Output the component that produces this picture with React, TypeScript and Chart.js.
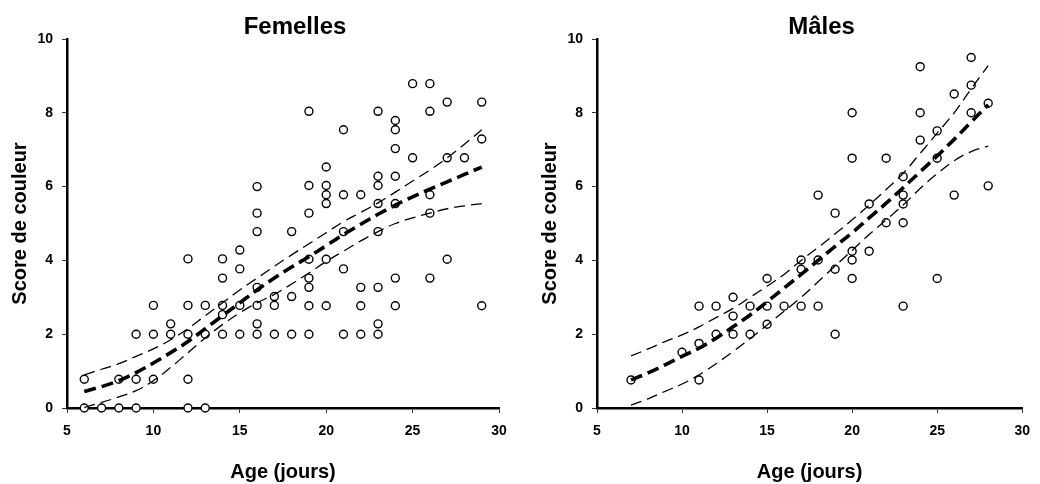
import React, { useEffect, useRef } from 'react';
import { Chart, registerables } from 'chart.js';

Chart.register(...registerables);

// ---- Femelles (females) ----
const femAges = [
  6, 6, 7, 8, 8, 9, 9, 9, 10, 10, 10, 11, 11,
  12, 12, 12, 12, 12, 13, 13, 13,
  14, 14, 14, 14, 14, 15, 15, 15, 15,
  16, 16, 16, 16, 16, 16, 16, 17, 17, 17, 18, 18, 18,
  19, 19, 19, 19, 19, 19, 19, 19,
  20, 20, 20, 20, 20, 20,
  21, 21, 21, 21, 21,
  22, 22, 22, 22,
  23, 23, 23, 23, 23, 23, 23, 23,
  24, 24, 24, 24, 24, 24, 24,
  25, 25, 26, 26, 26, 26, 26, 27, 27, 27, 28, 29, 29, 29,
];
const femScores = [
  0, 0.78, 0, 0, 0.78, 0, 0.78, 2.0, 0.78, 2.0, 2.78, 2.0, 2.28,
  0, 0.78, 2.0, 2.78, 4.04, 0, 2.0, 2.78,
  2.0, 2.53, 2.78, 3.52, 4.04, 2.0, 2.78, 3.77, 4.28,
  2.0, 2.28, 2.78, 3.27, 4.78, 5.28, 6.0, 2.0, 2.78, 3.02, 2.0, 3.02, 4.78,
  2.0, 2.77, 3.27, 3.52, 4.03, 5.28, 6.03, 8.04,
  2.77, 4.03, 5.54, 5.78, 6.03, 6.53,
  2.0, 3.77, 4.78, 5.78, 7.54,
  2.0, 2.77, 3.27, 5.78,
  2.0, 2.28, 3.27, 4.78, 5.54, 6.03, 6.28, 8.04,
  2.77, 3.52, 5.54, 6.28, 7.03, 7.54, 7.79,
  6.78, 8.79, 3.52, 5.28, 5.78, 8.04, 8.79, 4.03, 6.78, 8.29, 6.78, 2.77, 7.29, 8.29,
];
const femFitAges = [6, 7, 8, 9, 10, 11, 12, 13, 14, 15, 16, 17, 18, 19, 20, 21, 22, 23, 24, 25, 26, 27, 28, 29];
const femFitMean = [0.45, 0.58, 0.74, 0.96, 1.22, 1.5, 1.8, 2.15, 2.5, 2.85, 3.2, 3.52, 3.82, 4.1, 4.4, 4.7, 4.98, 5.25, 5.5, 5.72, 5.93, 6.13, 6.33, 6.53];
const femFitUpper = [0.9, 1.05, 1.2, 1.4, 1.6, 1.85, 2.15, 2.5, 2.85, 3.2, 3.52, 3.84, 4.15, 4.45, 4.75, 5.05, 5.3, 5.56, 5.85, 6.15, 6.45, 6.78, 7.15, 7.54];
const femFitLower = [0.02, 0.15, 0.3, 0.47, 0.74, 1.1, 1.5, 1.9, 2.26, 2.58, 2.85, 3.08, 3.36, 3.66, 3.97, 4.25, 4.53, 4.78, 5.0, 5.15, 5.28, 5.4, 5.48, 5.54];

// ---- Mâles (males) ----
const maleAges = [
  7, 10, 11, 11, 11, 12, 12, 13, 13, 13, 14, 14, 15, 15, 15, 16,
  17, 17, 17, 18, 18, 18, 19, 19, 19,
  20, 20, 20, 20, 20, 21, 21, 22, 22,
  23, 23, 23, 23, 23, 24, 24, 24, 25, 25, 25, 26, 26, 27, 27, 27, 28, 28,
];
const maleScores = [
  0.76, 1.51, 0.76, 1.75, 2.76, 2.0, 2.76, 2.0, 2.49, 3.0, 2.0, 2.76, 2.27, 2.76, 3.51, 2.76,
  2.76, 3.76, 4.01, 2.76, 4.01, 5.77, 2.0, 3.76, 5.28,
  3.51, 4.01, 4.25, 6.77, 8.0, 4.25, 5.53, 5.02, 6.77,
  2.76, 5.02, 5.53, 5.77, 6.27, 7.26, 8.0, 9.25, 3.51, 6.77, 7.51, 5.77, 8.51, 8.0, 8.75, 9.5, 6.02, 8.26,
];
const maleFitAges = [7, 8, 9, 10, 11, 12, 13, 14, 15, 16, 17, 18, 19, 20, 21, 22, 23, 24, 25, 26, 27, 28];
const maleFitMean = [0.76, 0.95, 1.17, 1.4, 1.62, 1.89, 2.2, 2.52, 2.88, 3.25, 3.62, 4.0, 4.38, 4.75, 5.15, 5.55, 5.97, 6.4, 6.83, 7.28, 7.75, 8.22];
const maleFitUpper = [1.41, 1.6, 1.8, 1.98, 2.2, 2.45, 2.7, 3.0, 3.3, 3.62, 4.0, 4.35, 4.72, 5.1, 5.5, 5.92, 6.36, 6.9, 7.45, 8.0, 8.65, 9.28];
const maleFitLower = [0.08, 0.25, 0.45, 0.65, 0.9, 1.2, 1.53, 1.88, 2.25, 2.62, 3.0, 3.42, 3.85, 4.27, 4.7, 5.1, 5.5, 5.95, 6.35, 6.7, 6.95, 7.1];

const xTicks = [5, 10, 15, 20, 25, 30];
const yTicks = [0, 2, 4, 6, 8, 10];

const FONT = '"Liberation Sans", Arial, Helvetica, sans-serif';

type PanelProps = {
  title: string;
  ages: number[];
  scores: number[];
  fitAges: number[];
  mean: number[];
  upper: number[];
  lower: number[];
  width: number;
  padRight: number;
};

function Panel(props: PanelProps) {
  const ref = useRef<HTMLCanvasElement | null>(null);
  useEffect(() => {
    const { title, ages, scores, fitAges, mean, upper, lower, padRight } = props;
    const pts = ages.map((a, i) => ({ x: a, y: scores[i] }));
    const line = (vals: number[]) => fitAges.map((a, i) => ({ x: a, y: vals[i] }));
    const titlePlugin = {
      id: 'panelTitle',
      afterDraw(chart: any) {
        const { ctx, chartArea } = chart;
        ctx.save();
        ctx.font = `bold 24px ${FONT}`;
        ctx.fillStyle = '#000';
        ctx.textAlign = 'center';
        ctx.textBaseline = 'alphabetic';
        ctx.fillText(title, (chartArea.left + chartArea.right) / 2 + 12, 33.5);
        ctx.restore();
      },
    };
    const thin = {
      type: 'scatter' as const,
      showLine: true,
      borderColor: '#000',
      borderWidth: 1.3,
      borderDash: [11, 6],
      pointRadius: 0,
      tension: 0.4,
      fill: false,
      order: 0,
      clip: false as any,
    };
    const chart = new Chart(ref.current as HTMLCanvasElement, {
      type: 'scatter',
      data: {
        datasets: [
          {
            label: 'obs',
            data: pts,
            pointRadius: 4,
            pointBorderWidth: 1.4,
            pointBackgroundColor: '#fff',
            pointBorderColor: '#000',
            backgroundColor: '#fff',
            borderColor: '#000',
            order: 1,
            clip: false as any,
          } as any,
          { ...thin, label: 'upper', data: line(upper) } as any,
          { ...thin, label: 'lower', data: line(lower) } as any,
          {
            ...thin,
            label: 'mean',
            data: line(mean),
            borderWidth: 3.6,
            borderDash: [12, 6],
          } as any,
        ],
      },
      options: {
        responsive: false,
        animation: false,
        events: [],
        layout: { padding: { top: 39, right: padRight, left: 0, bottom: 0 } },
        plugins: {
          legend: { display: false },
          tooltip: { enabled: false },
          title: { display: false },
        },
        scales: {
          x: {
            type: 'linear',
            min: 5,
            max: 30,
            afterBuildTicks: (s: any) => {
              s.ticks = xTicks.map((v) => ({ value: v }));
            },
            afterFit: (s: any) => {
              s.height = 76;
            },
            ticks: {
              color: '#000',
              font: { family: FONT, size: 14, weight: 'bold' },
              padding: 10,
            },
            grid: {
              display: true,
              drawOnChartArea: false,
              drawTicks: true,
              tickLength: 5,
              color: '#333',
              lineWidth: 1,
            },
            border: { display: true, color: '#000', width: 2.5 },
            title: {
              display: true,
              text: 'Age (jours)',
              color: '#000',
              font: { family: FONT, size: 20, weight: 'bold' },
              padding: { top: 0, bottom: 0 },
            },
          },
          y: {
            type: 'linear',
            min: 0,
            max: 10,
            afterBuildTicks: (s: any) => {
              s.ticks = yTicks.map((v) => ({ value: v }));
            },
            afterFit: (s: any) => {
              s.width = 67;
            },
            ticks: {
              color: '#000',
              font: { family: FONT, size: 14, weight: 'bold' },
              padding: 9,
            },
            grid: {
              display: true,
              drawOnChartArea: false,
              drawTicks: true,
              tickLength: 5,
              color: '#333',
              lineWidth: 1,
            },
            border: { display: true, color: '#000', width: 2.5 },
            title: {
              display: true,
              text: 'Score de couleur',
              color: '#000',
              font: { family: FONT, size: 20, weight: 'bold' },
              padding: { top: 8, bottom: 0 },
            },
          },
        },
      } as any,
      plugins: [titlePlugin],
    });
    return () => chart.destroy();
  }, []);
  return (
    <canvas
      ref={ref}
      width={props.width}
      height={484}
      style={{ width: props.width, height: 484, display: 'block' }}
    />
  );
}

export default function App() {
  return (
    <div style={{ position: 'absolute', left: 0, top: 0, width: 1040, height: 484, background: '#fff' }}>
      <div style={{ position: 'absolute', left: 0, top: 0 }}>
        <Panel
          title="Femelles"
          ages={femAges}
          scores={femScores}
          fitAges={femFitAges}
          mean={femFitMean}
          upper={femFitUpper}
          lower={femFitLower}
          width={520}
          padRight={21}
        />
      </div>
      <div style={{ position: 'absolute', left: 530, top: 0 }}>
        <Panel
          title="Mâles"
          ages={maleAges}
          scores={maleScores}
          fitAges={maleFitAges}
          mean={maleFitMean}
          upper={maleFitUpper}
          lower={maleFitLower}
          width={510}
          padRight={13}
        />
      </div>
    </div>
  );
}
